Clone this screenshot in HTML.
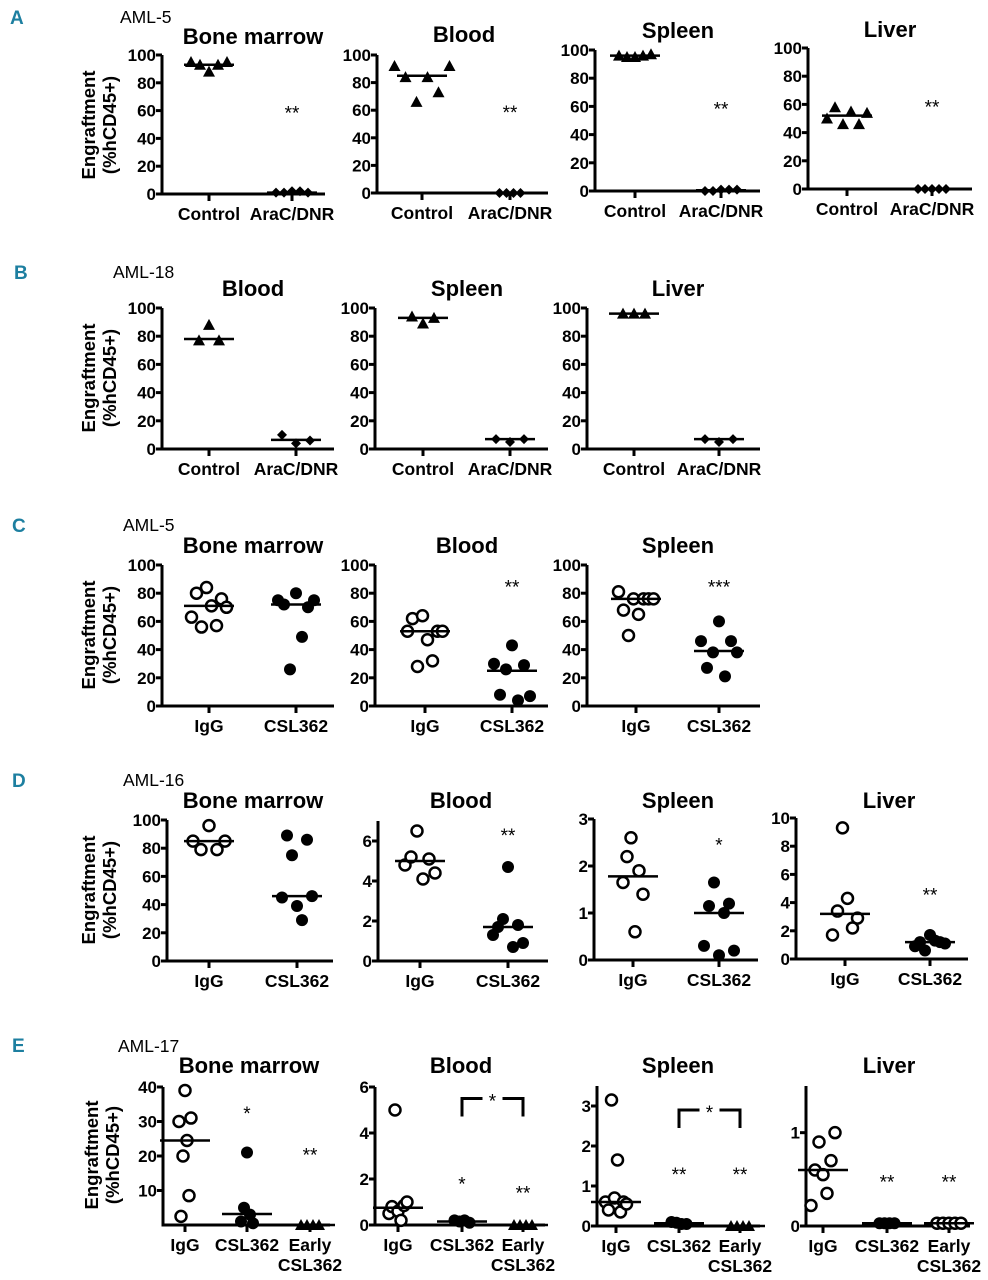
<!DOCTYPE html>
<html><head><meta charset="utf-8">
<style>
html,body{margin:0;padding:0;background:#fff;}
svg{display:block;font-family:"Liberation Sans",Arial,sans-serif;}
.pl{font-family:"Liberation Sans",sans-serif;font-weight:bold;fill:#1d7fa0;font-size:19px;}
</style></head>
<body>
<svg id="fig" width="988" height="1280" viewBox="0 0 988 1280"></svg>
<script>
// ---- data ----
const A_bm_ctrl=[95,93,88,93,95], A_bm_arac=[1,1,2,2,1], A_bm_lines=[93,1];
const A_bl_ctrl=[92,84,66,84,73,92], A_bl_arac=[0,0,0,0], A_bl_lines=[85,0];
const A_sp_ctrl=[96,95,95,96,97], A_sp_arac=[0,0,1,1,1], A_sp_lines=[96,0.5];
const A_li_ctrl=[50,58,46,55,46,54], A_li_arac=[0,0,0,0,0], A_li_lines=[52,0];
const B_bl_ctrl=[77,88,77], B_bl_arac=[10,4,6], B_bl_lines=[78,6.5];
const B_sp_ctrl=[94,89,93], B_sp_arac=[7,5,7], B_sp_lines=[93,7];
const B_li_ctrl=[96,96,96], B_li_arac=[7,5,7], B_li_lines=[96,7];
const C_bm_igg=[63,80,56,84,71,57,76,70], C_bm_csl=[75,72,26,80,49,70,75], C_bm_lines=[71,72];
const C_bl_igg=[53,62,28,64,47,32,53,53], C_bl_csl=[30,8,26,43,4,29,7], C_bl_lines=[53,25];
const C_sp_igg=[81,68,50,76,65,76,76,76], C_sp_csl=[46,27,38,60,21,46,38], C_sp_lines=[76,39];
const D_bm_igg=[85,79,96,79,85], D_bm_csl=[45,89,75,39,29,86,46], D_bm_lines=[85,46];
const D_bl_igg=[4.8,5.2,6.5,4.1,5.1,4.4], D_bl_csl=[1.3,1.7,2.1,4.7,0.7,1.8,0.9], D_bl_lines=[5,1.7];
const D_sp_igg=[1.65,2.2,2.6,0.6,1.9,1.4], D_sp_csl=[0.3,1.15,1.65,0.1,1.0,1.2,0.2], D_sp_lines=[1.78,1.0];
const D_li_igg=[1.7,3.4,9.3,4.3,2.2,2.9], D_li_csl=[0.9,1.2,0.6,1.7,1.3,1.2,1.1], D_li_lines=[3.2,1.2];
const E_bm_igg=[30,2.5,20,39,24.5,8.5,31], E_bm_csl=[1,5,21,3,0.5], E_bm_early=[0,0,0,0], E_bm_lines=[24.5,3.2,0];
const E_bl_igg=[0.5,0.8,5,0.6,0.2,0.85,1], E_bl_csl=[0.2,0.15,0.2,0.1], E_bl_early=[0,0,0,0], E_bl_lines=[0.75,0.15,0];
const E_sp_igg=[0.6,0.4,3.15,0.7,1.65,0.35,0.6,0.55], E_sp_csl=[0.1,0.08,0.05,0.05], E_sp_early=[0,0,0,0], E_sp_lines=[0.6,0.07,0];
const E_li_igg=[0.22,0.6,0.9,0.55,0.35,0.7,1.0], E_li_csl=[0.03,0.03,0.03,0.03], E_li_early=[0.03,0.03,0.03,0.03,0.03], E_li_lines=[0.6,0.03,0.03];
const ticks100=[0,20,40,60,80,100];
const catsAra=["Control","AraC/DNR"], catsIgg=["IgG","CSL362"], catsE=["IgG","CSL362","Early"];

const NS="http://www.w3.org/2000/svg";
const svg=document.getElementById('fig');
function mk(tag,attrs,parent,text){const e=document.createElementNS(NS,tag);for(const k in attrs)e.setAttribute(k,attrs[k]);if(text!==undefined)e.textContent=text;(parent||svg).appendChild(e);return e;}

function panel(p){
  const g=mk('g',{});
  
  
  const ys=v=>p.y0-(v/p.vmax)*(p.y0-p.ytop);
  const topV=p.axTop!==undefined?p.axTop:p.vmax;
  const ya=mk('line',{x1:p.x0,y1:ys(topV),x2:p.x0,y2:p.y0+1.5,stroke:'#000','stroke-width':3},g);
  
  
  const xa=mk('line',{x1:p.x0-1.5,y1:p.y0,x2:p.x1,y2:p.y0,stroke:'#000','stroke-width':3},g);
  
  
  p.ticks.forEach(t=>{
    const y=ys(t);
    mk('line',{x1:p.x0-6,y1:y,x2:p.x0,y2:y,stroke:'#000','stroke-width':3},g);
    const tl=mk('text',{x:p.x0-6,y:y+6,'text-anchor':'end','font-size':17,'font-weight':'bold'},g,String(t));
    
    
  });
  const tt=mk('text',{x:p.tx,y:p.ty,'text-anchor':'middle','font-size':22,'font-weight':'bold'},g,p.title);
  
  
  p.groups.forEach((gr,gi)=>{
    const cx=gr.x;
    mk('line',{x1:cx,y1:p.y0,x2:cx,y2:p.y0+7,stroke:'#000','stroke-width':3},g);
    const lab=p.cats[gi];
    const xl=mk('text',{x:cx,y:p.y0+26,'text-anchor':'middle','font-size':17.5,'font-weight':'bold'},g,lab);
    
    
    if(lab==="Early"){
      const x2=mk('text',{x:cx,y:p.y0+46,'text-anchor':'middle','font-size':17.5,'font-weight':'bold'},g,"CSL362");
      
      
    }
    const n=gr.vals.length;
    gr.vals.forEach((v,i)=>{
      const dx=(i-(n-1)/2)*(gr.sp||9);
      const x=cx+dx, y=ys(v);
      let m;
      if(gr.m==='tri') m=mk('polygon',{points:`${x},${y-6} ${x-6},${y+5} ${x+6},${y+5}`,fill:'#000'},g);
      else if(gr.m==='dia') m=mk('polygon',{points:`${x},${y-5} ${x+5},${y} ${x},${y+5} ${x-5},${y}`,fill:'#000'},g);
      else if(gr.m==='open') m=mk('circle',{cx:x,cy:y,r:5.5,fill:'#fff',stroke:'#000','stroke-width':2.5},g);
      else m=mk('circle',{cx:x,cy:y,r:6,fill:'#000'},g);
      
      
    });
    const ly=ys(p.lines[gi]);
    const ml=mk('line',{x1:cx-(gr.lw||25),y1:ly,x2:cx+(gr.lw||25),y2:ly,stroke:'#000','stroke-width':2.5},g);
    
    
  });
  (p.stars||[]).forEach(s=>{
    const st=mk('text',{x:p.groups[s.g].x,y:ys(s.v)+9,'text-anchor':'middle','font-size':19},g,s.t);
    
    
  });
  if(p.bracket){
    const b=p.bracket, xa1=p.groups[b.a].x, xb1=p.groups[b.b].x, yb=ys(b.v), yl=yb+18, mid=(xa1+xb1)/2;
    const br=mk('path',{d:`M${xa1},${yl} V${yb} H${mid-10} M${mid+10},${yb} H${xb1} V${yl}`,fill:'none',stroke:'#000','stroke-width':3},g);
    
    
    mk('text',{x:mid,y:yb+9,'text-anchor':'middle','font-size':19},g,'*');
  }
}

function ylabel(cx,cy){
  const t=mk('text',{transform:`translate(${cx},${cy}) rotate(-90)`,'text-anchor':'middle','font-size':18.5,'font-weight':'bold'});
  
  
  mk('tspan',{x:0,y:-10},t,'Engraftment');
  mk('tspan',{x:0,y:11},t,'(%hCD45+)');
}
function label(x,y,txt,name,cls){
  const t=mk('text',cls?{x:x,y:y,class:cls}:{x:x,y:y,'font-size':17.5},undefined,txt);
  
  
}

// Row A
label(10,24,'A','panel-label-a','pl');label(120,23,'AML-5','sample-label-a');
ylabel(105,125);
panel({name:'a-bone-marrow',title:'Bone marrow',tx:253,ty:44,x0:162,x1:325,y0:194,ytop:55,vmax:100,ticks:ticks100,cats:catsAra,lines:A_bm_lines,
 groups:[{x:209,vals:A_bm_ctrl,m:'tri'},{x:292,vals:A_bm_arac,m:'dia',sp:8}],stars:[{g:1,v:60,t:'**'}]});
panel({name:'a-blood',title:'Blood',tx:464,ty:42,x0:377,x1:548,y0:193,ytop:55,vmax:100,ticks:ticks100,cats:catsAra,lines:A_bl_lines,
 groups:[{x:422,vals:A_bl_ctrl,m:'tri',sp:11},{x:510,vals:A_bl_arac,m:'dia',sp:7}],stars:[{g:1,v:60,t:'**'}]});
panel({name:'a-spleen',title:'Spleen',tx:678,ty:38,x0:595,x1:760,y0:191,ytop:50,vmax:100,ticks:ticks100,cats:catsAra,lines:A_sp_lines,
 groups:[{x:635,vals:A_sp_ctrl,m:'tri',sp:8},{x:721,vals:A_sp_arac,m:'dia',sp:8}],stars:[{g:1,v:60,t:'**'}]});
panel({name:'a-liver',title:'Liver',tx:890,ty:37,x0:808,x1:972,y0:189,ytop:48,vmax:100,ticks:ticks100,cats:catsAra,lines:A_li_lines,
 groups:[{x:847,vals:A_li_ctrl,m:'tri',sp:8},{x:932,vals:A_li_arac,m:'dia',sp:7}],stars:[{g:1,v:60,t:'**'}]});

// Row B
label(14,279,'B','panel-label-b','pl');label(113,278,'AML-18','sample-label-b');
ylabel(105,378);
panel({name:'b-blood',title:'Blood',tx:253,ty:296,x0:162,x1:334,y0:449,ytop:308,vmax:100,ticks:ticks100,cats:catsAra,lines:B_bl_lines,
 groups:[{x:209,vals:B_bl_ctrl,m:'tri',sp:10},{x:296,vals:B_bl_arac,m:'dia',sp:14}]});
panel({name:'b-spleen',title:'Spleen',tx:467,ty:296,x0:375,x1:548,y0:449,ytop:308,vmax:100,ticks:ticks100,cats:catsAra,lines:B_sp_lines,
 groups:[{x:423,vals:B_sp_ctrl,m:'tri',sp:11},{x:510,vals:B_sp_arac,m:'dia',sp:14}]});
panel({name:'b-liver',title:'Liver',tx:678,ty:296,x0:587,x1:760,y0:449,ytop:308,vmax:100,ticks:ticks100,cats:catsAra,lines:B_li_lines,
 groups:[{x:634,vals:B_li_ctrl,m:'tri',sp:11},{x:719,vals:B_li_arac,m:'dia',sp:14}]});

// Row C
label(12,532,'C','panel-label-c','pl');label(123,531,'AML-5','sample-label-c');
ylabel(105,635);
panel({name:'c-bone-marrow',title:'Bone marrow',tx:253,ty:553,x0:162,x1:334,y0:706,ytop:565,vmax:100,ticks:ticks100,cats:catsIgg,lines:C_bm_lines,
 groups:[{x:209,vals:C_bm_igg,m:'open',sp:5},{x:296,vals:C_bm_csl,m:'fill',sp:6}]});
panel({name:'c-blood',title:'Blood',tx:467,ty:553,x0:375,x1:548,y0:706,ytop:565,vmax:100,ticks:ticks100,cats:catsIgg,lines:C_bl_lines,
 groups:[{x:425,vals:C_bl_igg,m:'open',sp:5},{x:512,vals:C_bl_csl,m:'fill',sp:6}],stars:[{g:1,v:86,t:'**'}]});
panel({name:'c-spleen',title:'Spleen',tx:678,ty:553,x0:587,x1:760,y0:706,ytop:565,vmax:100,ticks:ticks100,cats:catsIgg,lines:C_sp_lines,
 groups:[{x:636,vals:C_sp_igg,m:'open',sp:5},{x:719,vals:C_sp_csl,m:'fill',sp:6}],stars:[{g:1,v:86,t:'***'}]});

// Row D
label(12,787,'D','panel-label-d','pl');label(123,786,'AML-16','sample-label-d');
ylabel(105,890);
panel({name:'d-bone-marrow',title:'Bone marrow',tx:253,ty:808,x0:167,x1:333,y0:961,ytop:820,vmax:100,ticks:ticks100,cats:catsIgg,lines:D_bm_lines,
 groups:[{x:209,vals:D_bm_igg,m:'open',sp:8},{x:297,vals:D_bm_csl,m:'fill',sp:5}]});
panel({name:'d-blood',title:'Blood',tx:461,ty:808,x0:378,x1:548,y0:961,ytop:821,vmax:7,ticks:[0,2,4,6],cats:catsIgg,lines:D_bl_lines,
 groups:[{x:420,vals:D_bl_igg,m:'open',sp:6},{x:508,vals:D_bl_csl,m:'fill',sp:5}],stars:[{g:1,v:6.4,t:'**'}]});
panel({name:'d-spleen',title:'Spleen',tx:678,ty:808,x0:594,x1:758,y0:960,ytop:819,vmax:3,ticks:[0,1,2,3],cats:catsIgg,lines:D_sp_lines,
 groups:[{x:633,vals:D_sp_igg,m:'open',sp:4},{x:719,vals:D_sp_csl,m:'fill',sp:5}],stars:[{g:1,v:2.5,t:'*'}]});
panel({name:'d-liver',title:'Liver',tx:889,ty:808,x0:796,x1:968,y0:959,ytop:818,vmax:10,ticks:[0,2,4,6,8,10],cats:catsIgg,lines:D_li_lines,
 groups:[{x:845,vals:D_li_igg,m:'open',sp:5},{x:930,vals:D_li_csl,m:'fill',sp:5}],stars:[{g:1,v:4.7,t:'**'}]});

// Row E
label(12,1052,'E','panel-label-e','pl');label(118,1052,'AML-17','sample-label-e');
ylabel(108,1155);
panel({name:'e-bone-marrow',title:'Bone marrow',tx:249,ty:1073,x0:163,x1:330,y0:1225,ytop:1087,vmax:40,ticks:[10,20,30,40],cats:catsE,lines:E_bm_lines,
 groups:[{x:185,vals:E_bm_igg,m:'open',sp:2},{x:247,vals:E_bm_csl,m:'fill',sp:3},{x:310,vals:E_bm_early,m:'tri',sp:6}],
 stars:[{g:1,v:33,t:'*'},{g:2,v:21,t:'**'}]});
panel({name:'e-blood',title:'Blood',tx:461,ty:1073,x0:375,x1:545,y0:1225,ytop:1087,vmax:6,ticks:[0,2,4,6],cats:catsE,lines:E_bl_lines,
 groups:[{x:398,vals:E_bl_igg,m:'open',sp:3},{x:462,vals:E_bl_csl,m:'fill',sp:5},{x:523,vals:E_bl_early,m:'tri',sp:6}],
 stars:[{g:1,v:1.9,t:'*'},{g:2,v:1.5,t:'**'}],bracket:{a:1,b:2,v:5.5}});
panel({name:'e-spleen',title:'Spleen',tx:678,ty:1073,x0:597,x1:760,y0:1226,ytop:1086,vmax:3.5,ticks:[0,1,2,3],cats:catsE,lines:E_sp_lines,
 groups:[{x:616,vals:E_sp_igg,m:'open',sp:3},{x:679,vals:E_sp_csl,m:'fill',sp:5},{x:740,vals:E_sp_early,m:'tri',sp:6}],
 stars:[{g:1,v:1.35,t:'**'},{g:2,v:1.35,t:'**'}],bracket:{a:1,b:2,v:2.9}});
panel({name:'e-liver',title:'Liver',tx:889,ty:1073,x0:806,x1:970,y0:1226,ytop:1086,vmax:1.5,ticks:[0,1],cats:catsE,lines:E_li_lines,
 groups:[{x:823,vals:E_li_igg,m:'open',sp:4},{x:887,vals:E_li_csl,m:'fill',sp:5},{x:949,vals:E_li_early,m:'open',sp:6}],
 stars:[{g:1,v:0.5,t:'**'},{g:2,v:0.5,t:'**'}]});
</script>
</body></html>
